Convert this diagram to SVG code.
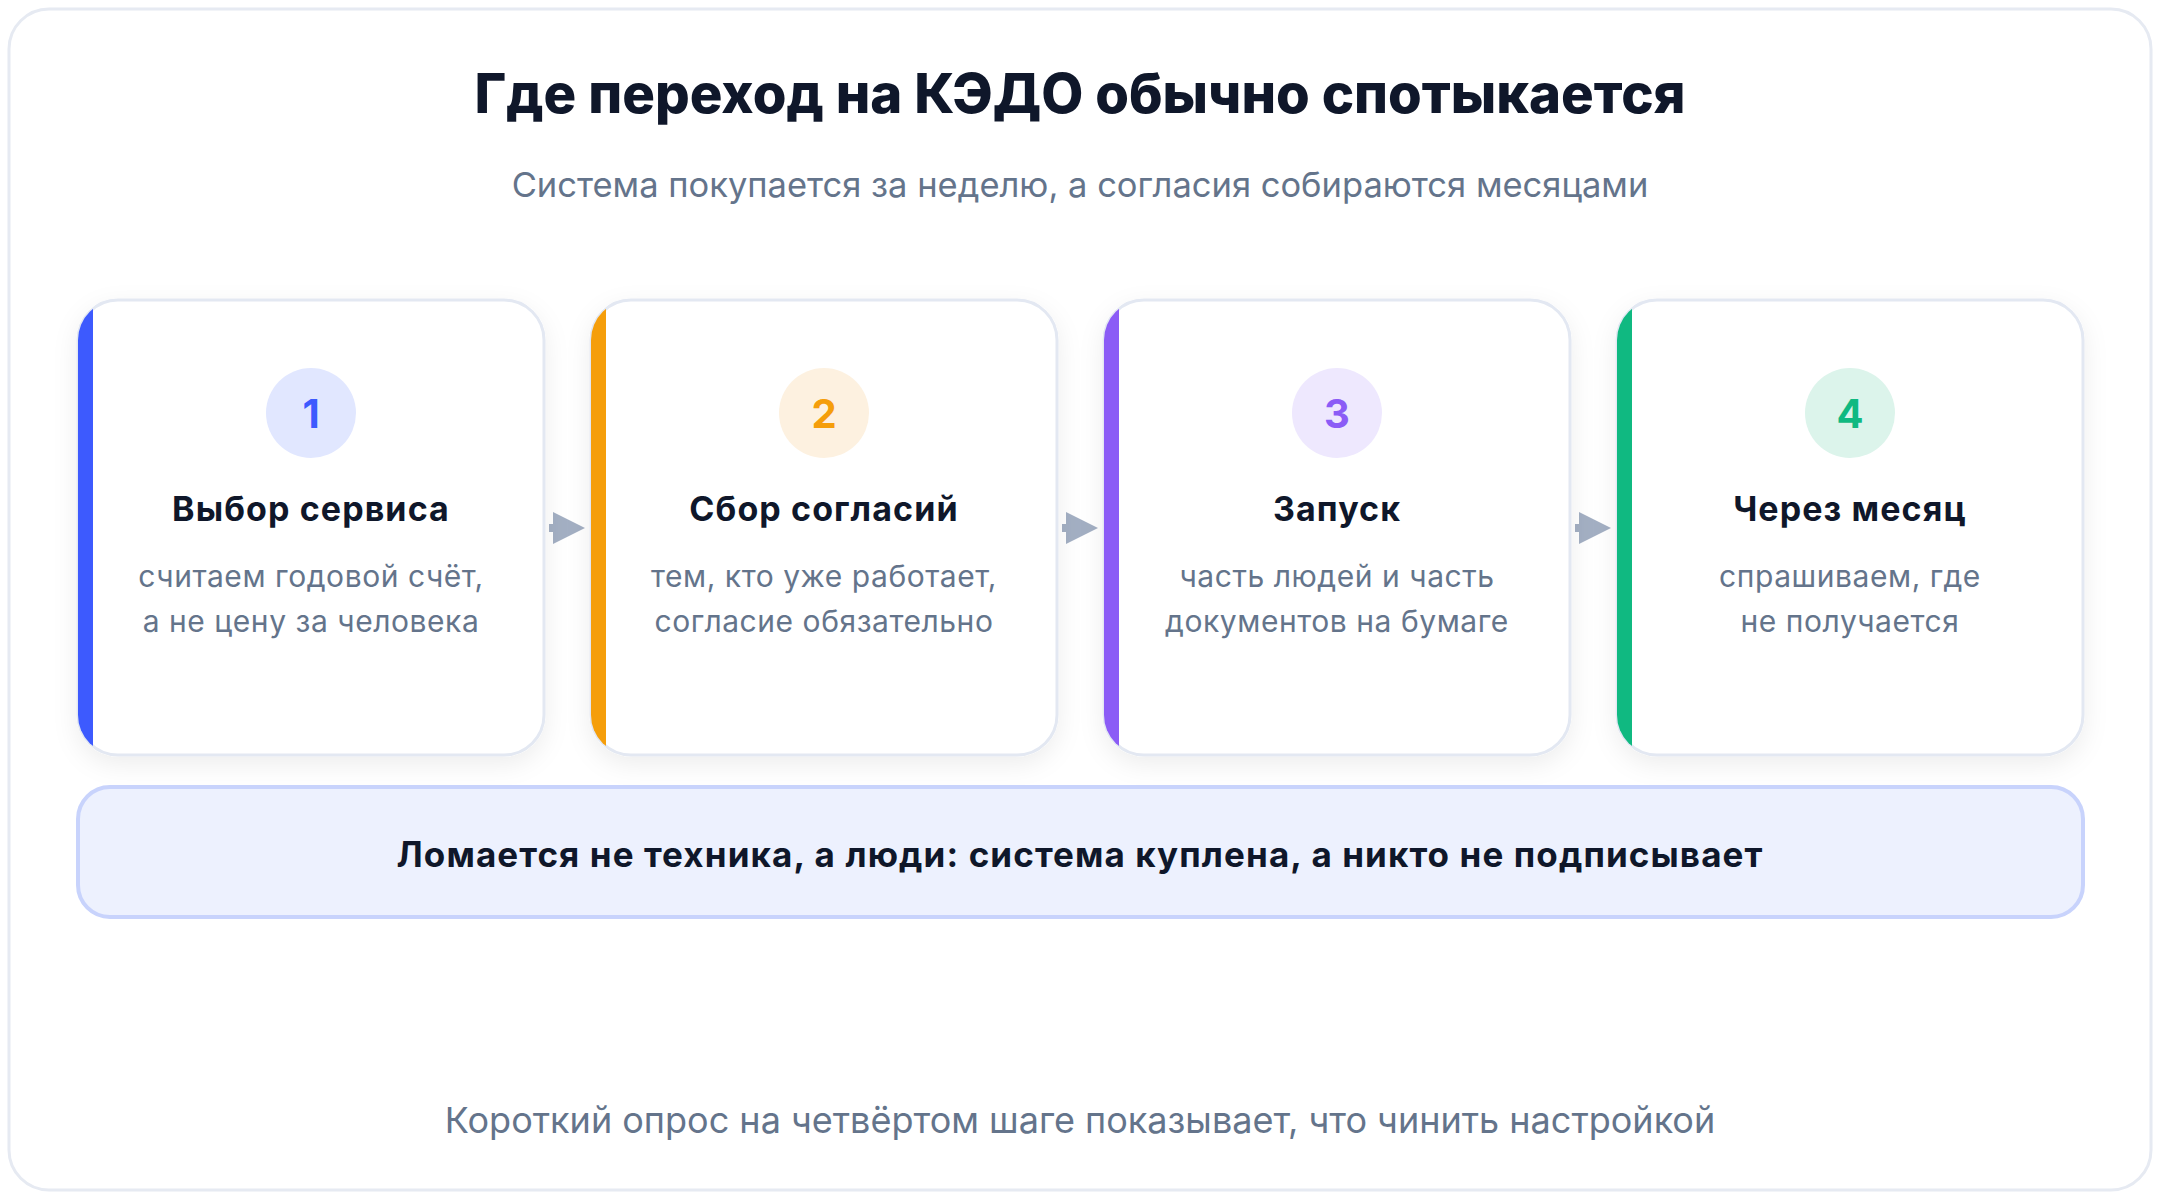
<svg xmlns="http://www.w3.org/2000/svg" width="2160" height="1200" viewBox="0 0 2160 1200">
  <defs>
    <style>
      .title { font-family: Inter, "Liberation Sans", sans-serif; font-weight: 800; font-size: 54.5px; fill: #0f172a; text-anchor: middle; }
      .sub { font-family: Inter, "Liberation Sans", sans-serif; font-weight: 400; font-size: 34.5px; fill: #64748b; text-anchor: middle; }
      .card { fill: #ffffff; stroke: #e3e8f2; stroke-width: 3; }
      .num { font-family: Inter, "Liberation Sans", sans-serif; font-weight: 700; font-size: 40px; text-anchor: middle; }
      .ctitle { font-family: Inter, "Liberation Sans", sans-serif; font-weight: 700; font-size: 34px; fill: #0f172a; text-anchor: middle; letter-spacing: 1.1px; }
      .cdesc { font-family: Inter, "Liberation Sans", sans-serif; font-weight: 400; font-size: 30px; fill: #64748b; text-anchor: middle; letter-spacing: 0.55px; }
      .banner { fill: #edf1fe; stroke: #c8d3fc; stroke-width: 4; }
      .btext { font-family: Inter, "Liberation Sans", sans-serif; font-weight: 700; font-size: 35px; fill: #0f172a; text-anchor: middle; letter-spacing: 1.1px; }
      .foot { font-family: Inter, "Liberation Sans", sans-serif; font-weight: 400; font-size: 36px; fill: #64748b; text-anchor: middle; }
      .conn { stroke: #a3afc3; stroke-width: 8; fill: none; }
      .head { fill: #a3afc3; }
    </style>
    <filter id="shadow" x="-10%" y="-10%" width="120%" height="125%">
      <feDropShadow dx="0" dy="8" stdDeviation="12" flood-color="#0f172a" flood-opacity="0.07"/>
    </filter>
    <clipPath id="c1"><rect x="78" y="300" width="466" height="455" rx="40"/></clipPath>
    <clipPath id="c2"><rect x="591" y="300" width="466" height="455" rx="40"/></clipPath>
    <clipPath id="c3"><rect x="1104" y="300" width="466" height="455" rx="40"/></clipPath>
    <clipPath id="c4"><rect x="1617" y="300" width="466" height="455" rx="40"/></clipPath>
  </defs>

  <rect x="0" y="0" width="2160" height="1200" fill="#ffffff"/>
  <rect id="frame" x="9" y="9" width="2142" height="1181" rx="40" fill="#ffffff" stroke="#e6eaf2" stroke-width="3"/>

  <g id="header">
    <text class="title" x="1080" y="113">Где переход на КЭДО обычно спотыкается</text>
    <text class="sub" x="1080" y="197">Система покупается за неделю, а согласия собираются месяцами</text>
  </g>

  <g id="connectors">
    <line class="conn" x1="549" y1="528" x2="556" y2="528"/>
    <path class="head" d="M553,512 L585,528 L553,544 Z"/>
    <line class="conn" x1="1062" y1="528" x2="1069" y2="528"/>
    <path class="head" d="M1066,512 L1098,528 L1066,544 Z"/>
    <line class="conn" x1="1575" y1="528" x2="1582" y2="528"/>
    <path class="head" d="M1579,512 L1611,528 L1579,544 Z"/>
  </g>

  <g id="step1">
    <rect class="card" x="78" y="300" width="466" height="455" rx="40" filter="url(#shadow)"/>
    <rect x="78" y="300" width="15" height="455" fill="#3d5afe" clip-path="url(#c1)"/>
    <circle cx="311" cy="413" r="45" fill="#e1e7ff"/>
    <text class="num" x="311" y="428" fill="#3d5afe">1</text>
    <text class="ctitle" x="311" y="521">Выбор сервиса</text>
    <text class="cdesc" x="311" y="587">считаем годовой счёт,</text>
    <text class="cdesc" x="311" y="632">а не цену за человека</text>
  </g>

  <g id="step2">
    <rect class="card" x="591" y="300" width="466" height="455" rx="40" filter="url(#shadow)"/>
    <rect x="591" y="300" width="15" height="455" fill="#f59e0b" clip-path="url(#c2)"/>
    <circle cx="824" cy="413" r="45" fill="#fdf1e0"/>
    <text class="num" x="824" y="428" fill="#f59e0b">2</text>
    <text class="ctitle" x="824" y="521">Сбор согласий</text>
    <text class="cdesc" x="824" y="587">тем, кто уже работает,</text>
    <text class="cdesc" x="824" y="632">согласие обязательно</text>
  </g>

  <g id="step3">
    <rect class="card" x="1104" y="300" width="466" height="455" rx="40" filter="url(#shadow)"/>
    <rect x="1104" y="300" width="15" height="455" fill="#8b5cf6" clip-path="url(#c3)"/>
    <circle cx="1337" cy="413" r="45" fill="#eee8fe"/>
    <text class="num" x="1337" y="428" fill="#8b5cf6">3</text>
    <text class="ctitle" x="1337" y="521">Запуск</text>
    <text class="cdesc" x="1337" y="587">часть людей и часть</text>
    <text class="cdesc" x="1337" y="632">документов на бумаге</text>
  </g>

  <g id="step4">
    <rect class="card" x="1617" y="300" width="466" height="455" rx="40" filter="url(#shadow)"/>
    <rect x="1617" y="300" width="15" height="455" fill="#10b981" clip-path="url(#c4)"/>
    <circle cx="1850" cy="413" r="45" fill="#dcf4eb"/>
    <text class="num" x="1850" y="428" fill="#10b981">4</text>
    <text class="ctitle" x="1850" y="521">Через месяц</text>
    <text class="cdesc" x="1850" y="587">спрашиваем, где</text>
    <text class="cdesc" x="1850" y="632">не получается</text>
  </g>

  <g id="conclusion">
    <rect class="banner" x="78" y="787" width="2005" height="130" rx="32"/>
    <text class="btext" x="1080" y="867">Ломается не техника, а люди: система куплена, а никто не подписывает</text>
  </g>

  <g id="footer">
    <text class="foot" x="1080" y="1133">Короткий опрос на четвёртом шаге показывает, что чинить настройкой</text>
  </g>
</svg>
